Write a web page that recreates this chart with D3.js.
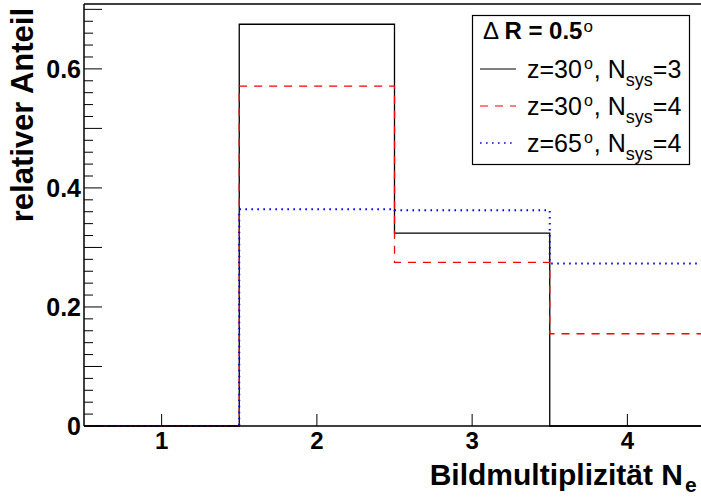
<!DOCTYPE html>
<html><head><meta charset="utf-8">
<script src="https://cdn.jsdelivr.net/npm/d3@7"></script>
<style>body{margin:0;background:#fff}svg{display:block}text{font-family:"Liberation Sans",Arial,sans-serif}</style>
</head><body>
<svg id="c" width="701" height="498"></svg>
<script>
const bins = [1, 2, 3, 4];
const binEdges = [0.5, 1.5, 2.5, 3.5, 4.5];
const seriesNames = ["z=30°, N_sys=3", "z=30°, N_sys=4", "z=65°, N_sys=4"];
const valuesZ30N3 = [0, 0.675, 0.324, 0];
const valuesZ30N4 = [0, 0.571, 0.275, 0.155];
const valuesZ65N4 = [0, 0.364, 0.3625, 0.273];
const xTicks = [1, 2, 3, 4];
const yTickLabels = [0, 0.2, 0.4, 0.6];
const legendTitle = "R = 0.5";

const svg = d3.select("#c");
const L = 84, T = 4, B = 426, R = 705;
const x = d3.scaleLinear().domain([0.5, 4.5]).range([L, R]);
const y = d3.scaleLinear().domain([0, 0.709]).range([B, T]);

const series = [
  {vals: valuesZ30N3, color: "#000", dash: null, w: 1.3},
  {vals: valuesZ30N4, color: "#ff0000", dash: "8,7", w: 1.3},
  {vals: valuesZ65N4, color: "#0000ff", dash: "1.6,4.4", w: 2},
];

// histogram outlines
const line = d3.line().x(d => x(d[0])).y(d => y(d[1])).curve(d3.curveStepAfter);
series.forEach(s => {
  const pts = s.vals.map((v, i) => [binEdges[i], v]);
  pts.push([binEdges[binEdges.length - 1], s.vals[s.vals.length - 1]]);
  svg.append("path").attr("d", line(pts)).attr("fill", "none")
    .attr("stroke", s.color).attr("stroke-width", s.w)
    .attr("stroke-dasharray", s.dash);
});

// frame
svg.append("line").attr("x1", L).attr("x2", 701).attr("y1", T).attr("y2", T).attr("stroke", "#000").attr("stroke-width", 1.5);
svg.append("line").attr("x1", L).attr("x2", L).attr("y1", T).attr("y2", B).attr("stroke", "#000").attr("stroke-width", 1.5);
svg.append("line").attr("x1", L).attr("x2", 701).attr("y1", B).attr("y2", B).attr("stroke", "#000").attr("stroke-width", 1.5);

// y ticks
const yMinor = d3.range(0, 0.7091, 0.02);
yMinor.forEach(v => {
  const major = Math.abs(v * 10 - Math.round(v * 10)) < 1e-6;
  svg.append("line").attr("x1", L).attr("x2", L + (major ? 18 : 9))
    .attr("y1", y(v)).attr("y2", y(v)).attr("stroke", "#000").attr("stroke-width", 1);
});
yTickLabels.forEach(v => {
  svg.append("text").attr("x", 81).attr("y", y(v)).attr("dy", "0.36em")
    .attr("text-anchor", "end").attr("font-weight", "bold").attr("font-size", 25)
    .text(v === 0 ? "0" : d3.format(".1f")(v));
});

// x ticks
xTicks.forEach(v => {
  svg.append("line").attr("x1", x(v)).attr("x2", x(v)).attr("y1", B).attr("y2", B - 12)
    .attr("stroke", "#000").attr("stroke-width", 1);
  svg.append("text").attr("x", x(v)).attr("y", 449).attr("text-anchor", "middle")
    .attr("font-weight", "bold").attr("font-size", 24).text(v);
});

// axis titles
svg.append("text").attr("transform", "translate(33,8) rotate(-90)")
  .attr("text-anchor", "end").attr("font-weight", "bold").attr("font-size", 31).text("relativer Anteil");
const xt = svg.append("text").attr("x", 683).attr("y", 485).attr("text-anchor", "end")
  .attr("font-weight", "bold").attr("font-size", 30);
xt.append("tspan").text("Bildmultiplizität N");
svg.append("text").attr("x", 685).attr("y", 492).attr("font-weight", "bold").attr("font-size", 21).text("e");

// legend
const lg = svg.append("g");
lg.append("rect").attr("x", 472.5).attr("y", 15.5).attr("width", 217).attr("height", 149)
  .attr("fill", "#fff").attr("stroke", "#000").attr("stroke-width", 1.2);
const ht = lg.append("text").attr("x", 483).attr("y", 39).attr("font-size", 24);
ht.append("tspan").text("\u0394 ");
ht.append("tspan").attr("font-weight", "bold").text(legendTitle);
ht.append("tspan").attr("font-size", 17).attr("dy", -7).attr("dx", 1).text("o");
const rowY = [69, 106, 143];
series.forEach((s, i) => {
  lg.append("line").attr("x1", 480).attr("x2", 516).attr("y1", rowY[i]).attr("y2", rowY[i])
    .attr("stroke", s.color).attr("stroke-width", s.w === 2 ? 1.6 : 1.2).attr("stroke-dasharray", s.dash);
  const parts = seriesNames[i].split("_");
  const sub = parts[1].split("=");
  const t = lg.append("text").attr("x", 527).attr("y", rowY[i] + 9).attr("font-size", 25);
  const p0 = parts[0].split("°");
  t.append("tspan").text(p0[0]);
  t.append("tspan").attr("font-size", 16).attr("dy", -9).attr("dx", 2).text("o");
  t.append("tspan").attr("dy", 9).attr("dx", 1).text(p0[1]);
  t.append("tspan").attr("font-size", 18).attr("dy", 8).text(sub[0]);
  t.append("tspan").attr("dy", -8).text("=" + sub[1]);
});
</script>
</body></html>
